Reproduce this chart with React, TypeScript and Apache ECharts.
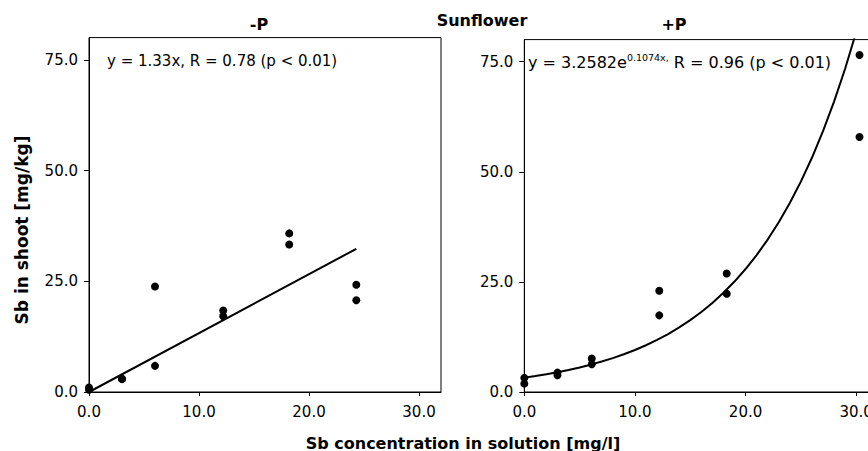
import React, { useEffect, useRef } from "react";
import * as echarts from "echarts";

// -P panel
const minusPX = [0, 0, 3, 3, 6, 6, 12.2, 12.2, 18.2, 18.2, 24.3, 24.3];
const minusPY = [0.5, 1.0, 2.9, 3.0, 5.9, 23.8, 18.4, 17.1, 35.8, 33.3, 24.2, 20.7];
const minusSlope = 1.33;
const minusLineX = [0, 24.3];

// +P panel
const plusPX = [0, 0, 3, 3, 6.1, 6.1, 12.2, 12.2, 18.3, 18.3, 30.3, 30.3];
const plusPY = [3.2, 1.9, 4.4, 3.8, 7.6, 6.3, 23.0, 17.4, 26.9, 22.3, 76.5, 57.9];
const expA = 3.2582;
const expB = 0.1074;
const curveX = [0, 1, 2, 3, 4, 5, 6, 7, 8, 9, 10, 11, 12, 13, 14, 15, 16, 17, 18, 19, 20, 21, 22, 23, 24, 25, 26, 27, 28, 29, 30, 31];

const xTicks = [0, 10, 20, 30];
const yTicks = [0, 25, 50, 75];

const FONT = "DejaVu Sans";

export default function App() {
  const ref = useRef<HTMLDivElement>(null);
  useEffect(() => {
    document.body.style.margin = "0";
    const chart = echarts.init(ref.current!, null, { renderer: "svg" });
    const pts = (xs: number[], ys: number[]) => xs.map((x, i) => [x, ys[i]]);
    const xAxisBase = (gridIndex: number) => ({
      type: "value",
      gridIndex,
      min: 0,
      max: 32,
      interval: 10,
      splitLine: { show: false },
      axisLine: { show: true, lineStyle: { color: "#000", width: 1 } },
      axisTick: { show: true, customValues: xTicks, length: 4, lineStyle: { color: "#000" } },
      axisLabel: {
        customValues: xTicks,
        formatter: (v: number) => v.toFixed(1),
        color: "#000",
        fontFamily: FONT,
        fontSize: 15,
        margin: 12,
      },
    });
    const yAxisBase = (gridIndex: number) => ({
      type: "value",
      gridIndex,
      min: 0,
      max: 80,
      interval: 25,
      splitLine: { show: false },
      axisLine: { show: true, lineStyle: { color: "#000", width: 1 } },
      axisTick: { show: true, customValues: yTicks, length: 5, lineStyle: { color: "#000" } },
      axisLabel: {
        customValues: yTicks,
        formatter: (v: number) => v.toFixed(1),
        color: "#000",
        fontFamily: FONT,
        fontSize: 15,
        margin: 11,
      },
    });
    chart.setOption({
      animation: false,
      grid: [
        { left: 89, top: 37.6, width: 352, height: 354.4, show: true, borderColor: "#000", borderWidth: 1, backgroundColor: "transparent" },
        { left: 524.3, top: 39.6, width: 354, height: 352.4, show: true, borderColor: "#000", borderWidth: 1, backgroundColor: "transparent" },
      ],
      xAxis: [xAxisBase(0), xAxisBase(1)],
      yAxis: [yAxisBase(0), yAxisBase(1)],
      series: [
        {
          type: "line",
          xAxisIndex: 0,
          yAxisIndex: 0,
          data: minusLineX.map((x) => [x, minusSlope * x]),
          showSymbol: false,
          symbol: "none",
          lineStyle: { color: "#000", width: 2 },
          z: 2,
        },
        {
          type: "scatter",
          xAxisIndex: 0,
          yAxisIndex: 0,
          data: pts(minusPX, minusPY),
          symbol: "circle",
          symbolSize: 8,
          itemStyle: { color: "#000", opacity: 1 },
          z: 3,
        },
        {
          type: "line",
          xAxisIndex: 1,
          yAxisIndex: 1,
          data: curveX.map((x) => [x, expA * Math.exp(expB * x)]),
          showSymbol: false,
          symbol: "none",
          clip: true,
          lineStyle: { color: "#000", width: 2 },
          z: 2,
        },
        {
          type: "scatter",
          xAxisIndex: 1,
          yAxisIndex: 1,
          data: pts(plusPX, plusPY),
          symbol: "circle",
          symbolSize: 8,
          itemStyle: { color: "#000", opacity: 1 },
          z: 3,
        },
      ],
      graphic: [
        {
          type: "text",
          x: 482,
          y: 20,
          style: { text: "Sunflower", font: `bold 16px "${FONT}"`, fill: "#000", align: "center", verticalAlign: "middle" },
        },
        {
          type: "text",
          x: 259,
          y: 24,
          style: { text: "-P", font: `bold 16px "${FONT}"`, fill: "#000", align: "center", verticalAlign: "middle" },
        },
        {
          type: "text",
          x: 674,
          y: 24,
          style: { text: "+P", font: `bold 16px "${FONT}"`, fill: "#000", align: "center", verticalAlign: "middle" },
        },
        {
          type: "text",
          x: 463,
          y: 443,
          style: { text: "Sb concentration in solution [mg/l]", font: `bold 16px "${FONT}"`, fill: "#000", align: "center", verticalAlign: "middle" },
        },
        {
          type: "text",
          x: 22,
          y: 230,
          rotation: Math.PI / 2,
          style: { text: "Sb in shoot [mg/kg]", font: `bold 17px "${FONT}"`, fill: "#000", align: "center", verticalAlign: "middle" },
        },
        {
          type: "text",
          x: 107,
          y: 61,
          style: { text: "y = 1.33x, R = 0.78 (p < 0.01)", font: `15px "${FONT}"`, fill: "#000", align: "left", verticalAlign: "middle" },
        },
        {
          type: "text",
          x: 528,
          y: 62,
          style: {
            text: "{n|y = 3.2582e}{s|0.1074x,}{n| R = 0.96 (p < 0.01)}",
            fill: "#000",
            align: "left",
            verticalAlign: "middle",
            rich: {
              n: { fontFamily: FONT, fontSize: 16, fill: "#000", lineHeight: 20, verticalAlign: "middle" },
              s: { fontFamily: FONT, fontSize: 9.5, fill: "#000", lineHeight: 10, verticalAlign: "top" },
            },
          },
        },
      ],
    });
    return () => chart.dispose();
  }, []);
  return (
    <div style={{ width: 868, height: 451, overflow: "hidden", position: "relative" }}>
      <div ref={ref} style={{ width: 900, height: 451 }} />
    </div>
  );
}
